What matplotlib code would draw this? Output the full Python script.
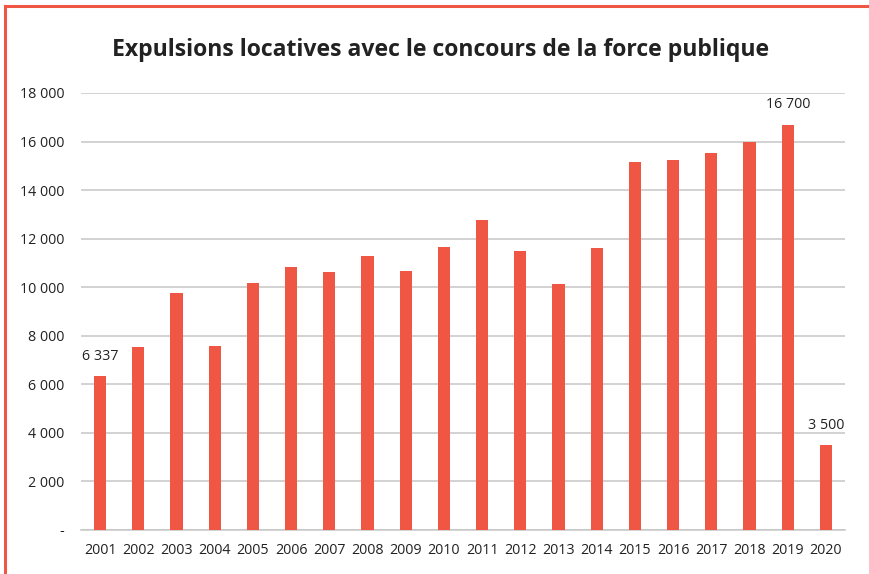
import matplotlib
matplotlib.use("Agg")
import matplotlib.pyplot as plt
from matplotlib.lines import Line2D

years = [str(y) for y in range(2001, 2021)]
values = [6337, 7534, 9763, 7589, 10182, 10824, 10640, 11294, 10652, 11670,
          12759, 11487, 10132, 11604, 15150, 15222, 15547, 15993, 16700, 3500]
labeled = {"2001": "6 337", "2019": "16 700", "2020": "3 500"}
yticks = [0, 2000, 4000, 6000, 8000, 10000, 12000, 14000, 16000, 18000]
ytick_labels = ["-", "2 000", "4 000", "6 000", "8 000", "10 000", "12 000",
                "14 000", "16 000", "18 000"]

RED = "#ef5643"
plt.rcParams['font.family'] = ['Open Sans', 'DejaVu Sans']

fig = plt.figure(figsize=(8.7, 5.74), dpi=100)
ax = fig.add_axes([81/870, 1-530/574, (845-81)/870, (530-93)/574])

x = list(range(len(years)))
ax.bar(x, values, width=0.32, color=RED, zorder=3)
ax.set_xlim(-0.5, len(years)-0.5)
ax.set_ylim(0, 18000)
ax.set_yticks(yticks)
ax.set_yticklabels(ytick_labels)
ax.set_xticks(x)
ax.set_xticklabels(years)
ax.tick_params(axis='both', length=0, labelsize=10.3, colors="#222222")
ax.tick_params(axis='y', pad=12)
ax.tick_params(axis='x', pad=9)
ax.grid(axis='y', color="#c6c6c6", linewidth=1.1, zorder=0)
for s in ["top", "right", "left"]:
    ax.spines[s].set_visible(False)
ax.spines["bottom"].set_color("#c6c6c6")
ax.spines["bottom"].set_linewidth(1.1)

for i, (yr, v) in enumerate(zip(years, values)):
    if yr in labeled:
        ax.annotate(labeled[yr], (i, v), xytext=(0, 9), textcoords="offset points",
                    ha="center", va="bottom", fontsize=10.3, color="#222222")

fig.text(0.506, 1-50/574, "Expulsions locatives avec le concours de la force publique",
         ha="center", va="center", fontsize=16.6, fontweight="bold", color="#222222")

# partial frame (left and top)
fig.add_artist(Line2D([5.5/870, 5.5/870], [0, 1-5.5/574], transform=fig.transFigure,
                      color=RED, linewidth=2.2))
fig.add_artist(Line2D([5.5/870, 1], [1-5.5/574, 1-5.5/574], transform=fig.transFigure,
                      color=RED, linewidth=2.2))

fig.savefig("out.png", dpi=100)
